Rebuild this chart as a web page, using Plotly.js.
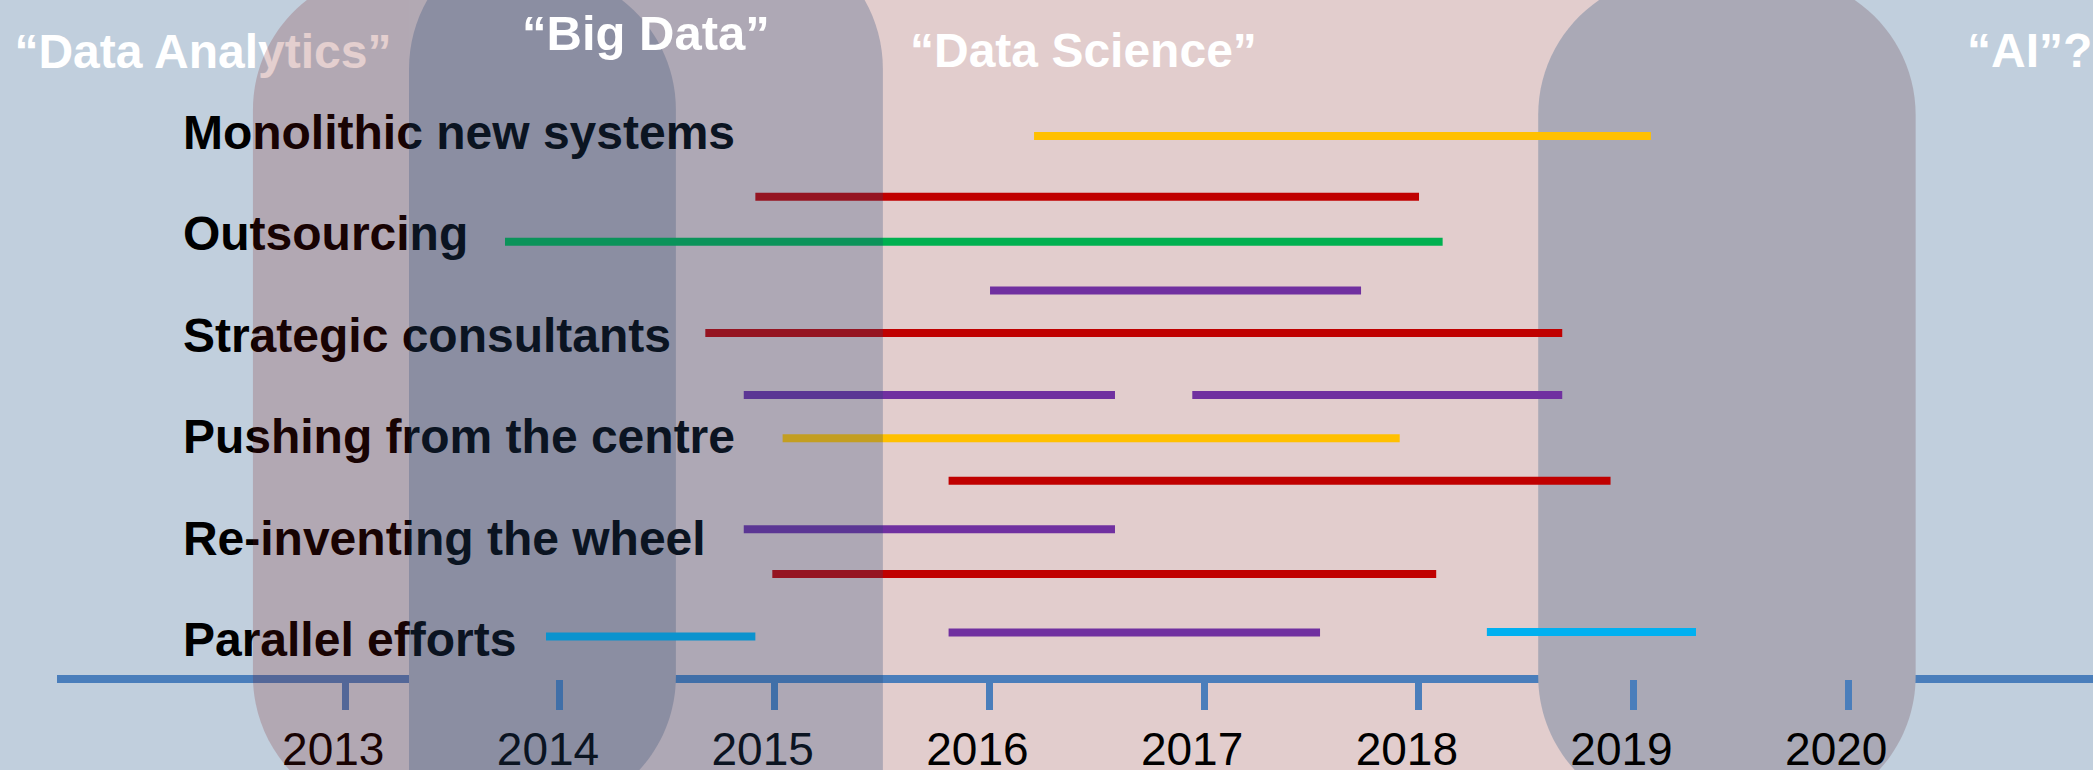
<!DOCTYPE html>
<html>
<head>
<meta charset="utf-8">
<script src="https://cdn.plot.ly/plotly-3.0.1.min.js"></script>
<style>html,body{margin:0;padding:0;background:#C1CFDD;overflow:hidden}</style>
</head>
<body>
<div id="chart" style="width:2093px;height:770px"></div>
<script>
// ---------------- data ----------------
const years = [2013, 2014, 2015, 2016, 2017, 2018, 2019, 2020];
const yearLabels = ['2013', '2014', '2015', '2016', '2017', '2018', '2019', '2020'];

const labels = ['Monolithic new systems', 'Outsourcing', 'Strategic consultants',
                'Pushing from the centre', 'Re-inventing the wheel', 'Parallel efforts'];
const labelLanes = [0, 1, 2, 3, 4, 5];

const eraLabels = ['\u201cData Analytics\u201d', '\u201cBig Data\u201d', '\u201cData Science\u201d', '\u201cAI\u201d?'];

// each bar: start year, end year, lane (0 = first label row), colour group
const barStart = [2016.208, 2014.910, 2013.744, 2016.003, 2014.677, 2014.856, 2016.945,
                  2015.037, 2015.810, 2014.856, 2014.989, 2013.935, 2015.810, 2018.317];
const barEnd   = [2019.081, 2018.001, 2018.111, 2017.731, 2018.668, 2016.585, 2018.668,
                  2017.911, 2018.893, 2016.585, 2018.081, 2014.910, 2017.540, 2019.291];
const barLane  = [0.065, 0.663, 1.106, 1.585, 2.004, 2.616, 2.616,
                  3.041, 3.460, 3.939, 4.378, 4.994, 4.956, 4.951];
const barGroup = ['yellow', 'red', 'green', 'purple', 'red', 'purple', 'purple',
                  'yellow', 'red', 'purple', 'red', 'blue', 'purple', 'blue'];

// ---------------- styles ----------------
const groupColors = {yellow: '#FFC000', red: '#C00000', green: '#00B050', purple: '#7030A0', blue: '#00B0F0'};
const FONT = 'Liberation Sans, Arial, Helvetica, sans-serif';
const BG = '#C1CFDD';
const AXIS_BLUE = '#4A7EBB';
const X_RANGE = [2011.392, 2021.140];
const Y_RANGE = [6.310, -1.276];
const BAR_WIDTH = 0.079;
const LABEL_X = 2012.244;
const TEXT_DY = 0.072;   // scatter-text baseline correction (lanes)

// era backdrop geometry (years / lanes)
const RX = 0.647, RY = 1.370, K = 0.5523;
const eraA = {x0: 2012.570, x1: 2014.540, y0: -1.562, y1: 6.754};   // reddish
const eraB = {x0: 2013.297, x1: 2015.504, y0: -1.966, y1: 12};      // navy
const eraC = {x0: 2018.556, x1: 2020.314, y0: -1.512, y1: 6.754};   // grey
const pinkBand = [2014.15, 2019.3];

function f(v) { return (+v).toFixed(4); }
function P(x, y) { return f(x) + ',' + f(y); }
function rrFull(s) {
  const {x0, x1, y0, y1} = s;
  return 'M' + P(x0 + RX, y0) + ' L' + P(x1 - RX, y0) +
    ' C' + P(x1 - RX + K * RX, y0) + ' ' + P(x1, y0 + RY - K * RY) + ' ' + P(x1, y0 + RY) +
    ' L' + P(x1, y1 - RY) +
    ' C' + P(x1, y1 - RY + K * RY) + ' ' + P(x1 - RX + K * RX, y1) + ' ' + P(x1 - RX, y1) +
    ' L' + P(x0 + RX, y1) +
    ' C' + P(x0 + RX - K * RX, y1) + ' ' + P(x0, y1 - RY + K * RY) + ' ' + P(x0, y1 - RY) +
    ' L' + P(x0, y0 + RY) +
    ' C' + P(x0, y0 + RY - K * RY) + ' ' + P(x0 + RX - K * RX, y0) + ' ' + P(x0 + RX, y0) + ' Z';
}
function rrLeft(s, xs) {
  const {x0, y0, y1} = s;
  return 'M' + P(xs, y0) + ' L' + P(x0 + RX, y0) +
    ' C' + P(x0 + RX - K * RX, y0) + ' ' + P(x0, y0 + RY - K * RY) + ' ' + P(x0, y0 + RY) +
    ' L' + P(x0, y1 - RY) +
    ' C' + P(x0, y1 - RY + K * RY) + ' ' + P(x0 + RX - K * RX, y1) + ' ' + P(x0 + RX, y1) +
    ' L' + P(xs, y1) + ' Z';
}
function rrRight(s, xs) {
  const {x1, y0, y1} = s;
  return 'M' + P(xs, y0) + ' L' + P(x1 - RX, y0) +
    ' C' + P(x1 - RX + K * RX, y0) + ' ' + P(x1, y0 + RY - K * RY) + ' ' + P(x1, y0 + RY) +
    ' L' + P(x1, y1 - RY) +
    ' C' + P(x1, y1 - RY + K * RY) + ' ' + P(x1 - RX + K * RX, y1) + ' ' + P(x1 - RX, y1) +
    ' L' + P(xs, y1) + ' Z';
}

const shapes = [
  {type: 'rect', xref: 'x', yref: 'paper', x0: pinkBand[0], x1: pinkBand[1], y0: 0, y1: 1,
   fillcolor: '#E2CDCD', line: {width: 0}, layer: 'below'},
  {type: 'path', xref: 'x', yref: 'y', path: rrFull(eraC),
   fillcolor: '#AAA9B6', line: {width: 0}, layer: 'below'},
  {type: 'path', xref: 'x', yref: 'y', path: rrRight(eraA, eraB.x0),
   fillcolor: 'rgb(178,169,179)', line: {width: 0}, layer: 'below'},
  {type: 'line', xref: 'paper', yref: 'paper', x0: 57 / 2093, x1: 1, y0: 1 - 679 / 770, y1: 1 - 679 / 770,
   line: {color: AXIS_BLUE, width: 8}, layer: 'below'},
  {type: 'path', xref: 'x', yref: 'y', path: rrLeft(eraA, eraB.x0),
   fillcolor: 'rgba(120,15,15,0.2)', line: {width: 0}, layer: 'above'},
  {type: 'path', xref: 'x', yref: 'y', path: rrFull(eraB),
   fillcolor: 'rgba(39,71,118,0.28)', line: {width: 0}, layer: 'above'}
];

const traces = [
  {
    type: 'scatter', mode: 'text', x: [2012.337], y: [-0.793 + TEXT_DY], text: [eraLabels[0]],
    textposition: 'middle center',
    textfont: {family: FONT, size: 48, color: '#FFFFFF', weight: 'bold'},
    hoverinfo: 'skip', showlegend: false, cliponaxis: false
  },
  {
    type: 'bar', orientation: 'h',
    y: barLane,
    base: barStart,
    x: barStart.map((s, i) => barEnd[i] - s),
    width: BAR_WIDTH,
    marker: {color: barGroup.map(g => groupColors[g]), line: {width: 0}},
    hoverinfo: 'skip', showlegend: false
  },
  {
    type: 'scatter', mode: 'text',
    x: labels.map(() => LABEL_X), y: labelLanes.map(v => v + TEXT_DY), text: labels,
    textposition: 'middle right',
    textfont: {family: FONT, size: 48, color: '#000000', weight: 'bold'},
    hoverinfo: 'skip', showlegend: false, cliponaxis: false
  }
];

const headFont = {family: FONT, size: 48, color: '#FFFFFF', weight: 'bold'};
const annotations = [
  {xref: 'x', yref: 'y', x: 2014.400, y: -0.951, text: eraLabels[1], showarrow: false,
   xanchor: 'center', yanchor: 'middle', font: Object.assign({}, headFont, {size: 49}), borderpad: 0},
  {xref: 'x', yref: 'y', x: 2016.438, y: -0.778, text: eraLabels[2], showarrow: false,
   xanchor: 'center', yanchor: 'middle', font: headFont, borderpad: 0},
  {xref: 'x', yref: 'y', x: 2020.548, y: -0.783, text: eraLabels[3], showarrow: false,
   xanchor: 'left', yanchor: 'middle', font: headFont, borderpad: 0}
];

const layout = {
  width: 2093, height: 770,
  margin: {l: 0, r: 0, t: 0, b: 0, pad: 0},
  paper_bgcolor: BG, plot_bgcolor: BG,
  showlegend: false, hovermode: false, barmode: 'overlay',
  xaxis: {
    range: X_RANGE, anchor: 'free', position: 1 - 679 / 770,
    showgrid: false, zeroline: false, showline: false,
    ticks: 'outside', ticklen: 30, tickwidth: 7, tickcolor: AXIS_BLUE,
    tickmode: 'array', tickvals: years, ticktext: yearLabels,
    tickfont: {family: FONT, size: 46, color: '#000000'},
    ticklabelshift: -12, ticklabelstandoff: 0, fixedrange: true
  },
  yaxis: {range: Y_RANGE, visible: false, showgrid: false, zeroline: false, fixedrange: true},
  shapes: shapes,
  annotations: annotations
};

Plotly.newPlot('chart', traces, layout, {staticPlot: true, displayModeBar: false});
</script>
</body>
</html>
